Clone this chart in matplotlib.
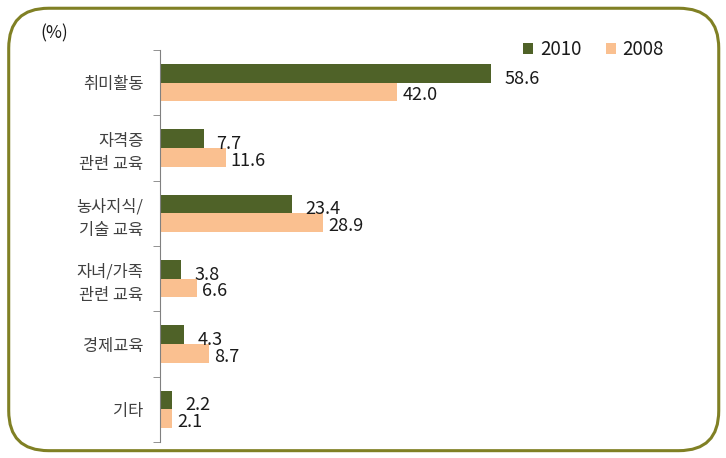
import matplotlib.pyplot as plt
from matplotlib.patches import FancyBboxPatch
import numpy as np

plt.rcParams['font.family'] = ['Noto Sans CJK KR', 'DejaVu Sans']

categories = ['취미활동', '자격증\n관련 교육', '농사지식/\n기술 교육', '자녀/가족\n관련 교육', '경제교육', '기타']
v2010 = [58.6, 7.7, 23.4, 3.8, 4.3, 2.2]
v2008 = [42.0, 11.6, 28.9, 6.6, 8.7, 2.1]

c2010 = '#4F6228'
c2008 = '#FAC090'

fig = plt.figure(figsize=(7.26, 4.58), dpi=100)
border = FancyBboxPatch((0.012, 0.016), 0.978, 0.966, boxstyle='round,pad=0,rounding_size=0.055',
                        transform=fig.transFigure, fill=False, edgecolor='#808024', linewidth=2.2,
                        mutation_aspect=726 / 458)
fig.patches.append(border)

ax = fig.add_axes([160 / 726, 1 - 442 / 458, 540 / 726, 392 / 458])
y = np.arange(len(categories))
h = 0.285
ax.barh(y - h / 2, v2010, height=h, color=c2010, label='2010')
ax.barh(y + h / 2, v2008, height=h, color=c2008, label='2008')

for i in range(len(categories)):
    ax.text(v2010[i] + 2.3, y[i] - h / 2 + 0.08, f'{v2010[i]:.1f}', va='center', ha='left',
            fontsize=13, color='#1a1a1a')
    ax.text(v2008[i] + 0.9, y[i] + h / 2 + 0.05, f'{v2008[i]:.1f}', va='center', ha='left',
            fontsize=13, color='#1a1a1a')

ax.set_ylim(len(categories) - 0.5, -0.5)
ax.set_xlim(0, 540 / 5.65)
ax.set_yticks(y)
ax.set_yticklabels(categories, fontsize=11.8, color='#404040', linespacing=1.5)
ax.set_yticks(np.arange(-0.5, len(categories)), minor=True)
ax.tick_params(axis='y', which='major', length=0, pad=12)
ax.tick_params(axis='y', which='minor', length=5, color='#808080')
ax.set_xticks([])
for s in ['top', 'right', 'bottom']:
    ax.spines[s].set_visible(False)
ax.spines['left'].set_color('#808080')

fig.text(40 / 726, 1 - 33 / 458, '(%)', fontsize=12.5, color='#1a1a1a', va='center')

leg = ax.legend(loc='upper left', bbox_to_anchor=(506 / 726, 1 - 22 / 458), bbox_transform=fig.transFigure,
                ncol=2, frameon=False, fontsize=13.5, handlelength=0.55, handleheight=0.55,
                handletextpad=0.35, columnspacing=1.3, labelcolor='#1a1a1a')

plt.savefig('out.png', dpi=100)
